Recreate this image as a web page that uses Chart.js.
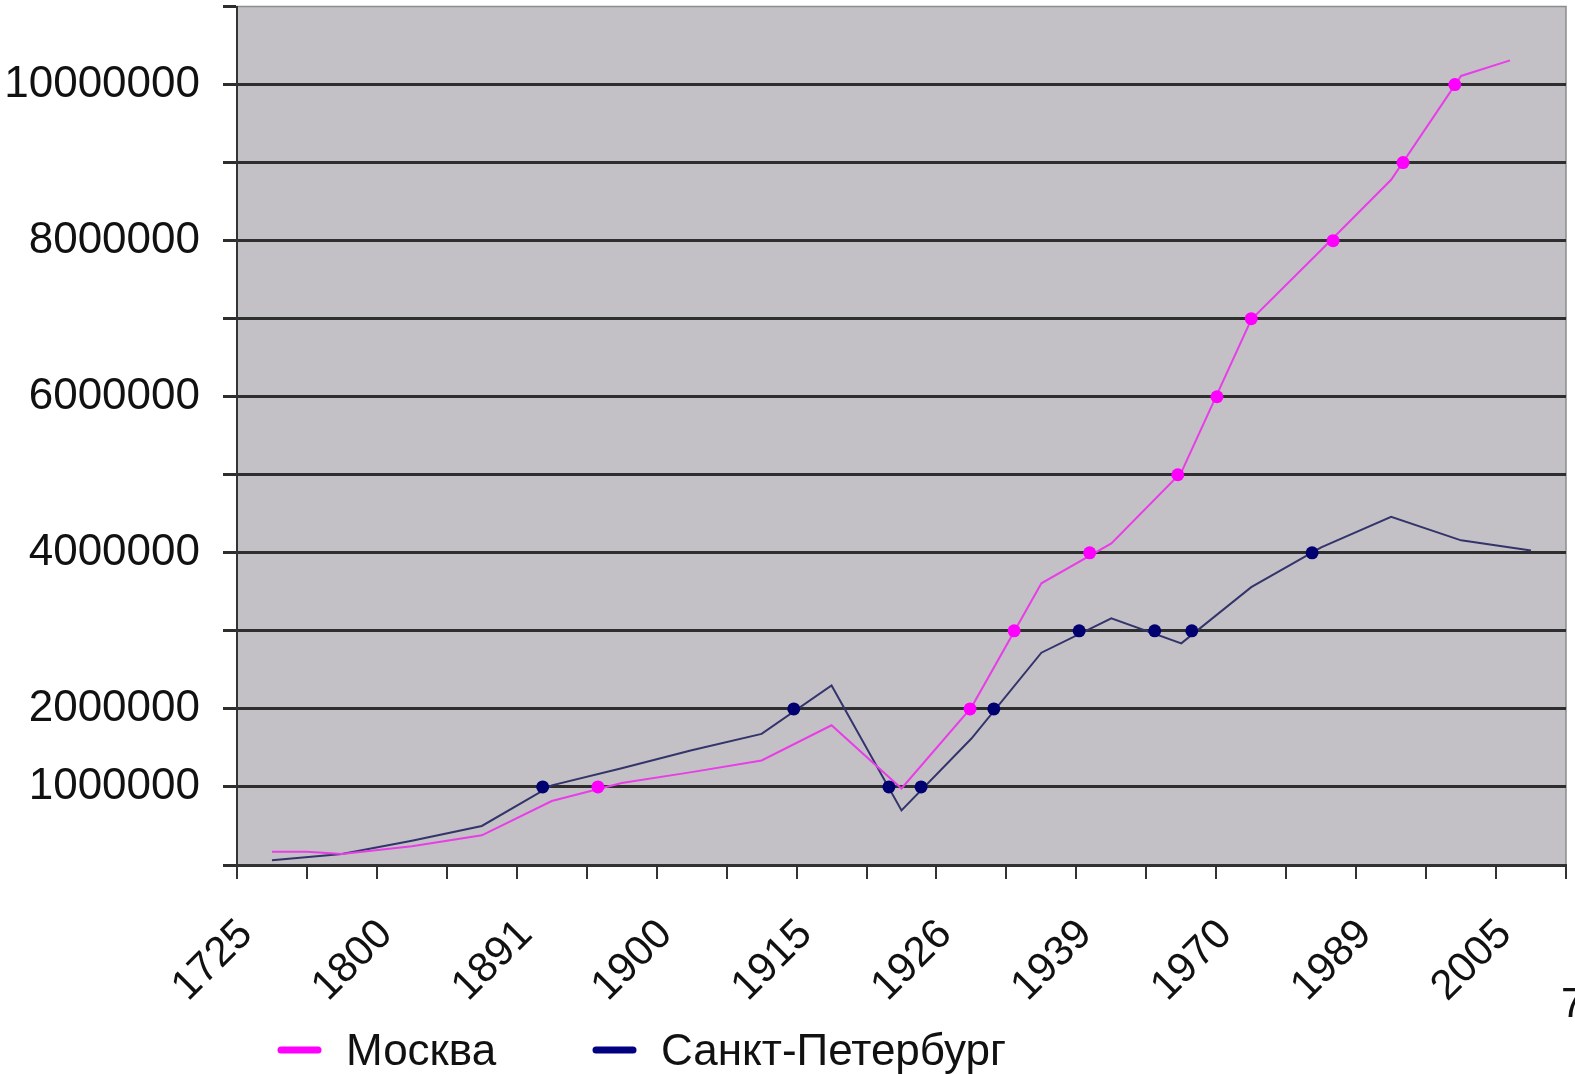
<!DOCTYPE html>
<html>
<head>
<meta charset="utf-8">
<title>Москва и Санкт-Петербург</title>
<script src="https://cdn.jsdelivr.net/npm/chart.js@4.4.1/dist/chart.umd.min.js"></script>
<style>
  html, body { margin: 0; padding: 0; background: #fff; }
  canvas { display: block; }
</style>
</head>
<body>
<canvas id="popChart" width="1575" height="1074"></canvas>
<script>
// x categories (only every other one gets a label)
const years = ['1725', '1750', '1800', '1863', '1891', '1897', '1900', '1907', '1915', '1920',
               '1926', '1933', '1939', '1959', '1970', '1979', '1989', '2002', '2005'];

// Moscow line: position on the category axis, population
const moscowPos = [0, 0.5, 1, 2, 3, 4, 5, 6, 7, 8, 9, 10, 11, 12, 13, 14, 15, 16, 17, 17.7];
const moscowPop = [170000, 170000, 140000, 240000, 380000, 820000, 1050000, 1190000, 1340000, 1790000,
                   980000, 2020000, 3610000, 4120000, 5030000, 6990000, 7880000, 8780000, 10110000, 10310000];

// St Petersburg line
const spbPos = [0, 1, 2, 3, 4, 5, 6, 7, 8, 9, 10, 11, 12, 13, 14, 15, 16, 17, 18];
const spbPop = [60000, 140000, 310000, 500000, 1020000, 1240000, 1470000, 1680000, 2300000, 700000,
                1620000, 2720000, 3160000, 2840000, 3560000, 4070000, 4460000, 4160000, 4030000];

// dots where the lines cross whole millions
const moscowDotPos = [4.66, 9.98, 10.61, 11.69, 12.95, 13.51, 14.0, 15.17, 16.17, 16.91];
const moscowDotPop = [1000000, 2000000, 3000000, 4000000, 5000000, 6000000, 7000000, 8000000, 9000000, 10000000];
const spbDotPos = [3.87, 7.46, 8.82, 9.28, 10.32, 11.54, 12.62, 13.15, 14.87];
const spbDotPop = [1000000, 2000000, 1000000, 1000000, 2000000, 3000000, 3000000, 3000000, 4000000];

// y values that get a printed label
const yLabelled = [1000000, 2000000, 4000000, 6000000, 8000000, 10000000];

const FONT = '"Liberation Sans", Arial, sans-serif';
const pts = (xs, ys) => xs.map((x, i) => ({ x: x, y: ys[i] }));

// grey plot area like the old Excel charts
const plotBackground = {
  id: 'plotBackground',
  beforeDraw(chart) {
    const { ctx, chartArea: a } = chart;
    ctx.save();
    ctx.fillStyle = '#c3c1c5';
    ctx.fillRect(a.left, a.top, a.width, a.height);
    ctx.strokeStyle = '#8c8c8c';
    ctx.lineWidth = 1.5;
    ctx.strokeRect(a.left, a.top, a.width, a.height);
    ctx.restore();
  }
};

// legend under the axis labels + slide number
const bottomLegend = {
  id: 'bottomLegend',
  afterDraw(chart) {
    const ctx = chart.ctx;
    const left = chart.chartArea.left;
    const y = 1050;
    const items = [
      { ds: chart.data.datasets[2], x: left + 40 },
      { ds: chart.data.datasets[3], x: left + 355 }
    ];
    ctx.save();
    ctx.font = '44px ' + FONT;
    ctx.textBaseline = 'alphabetic';
    ctx.lineCap = 'round';
    ctx.lineWidth = 7;
    items.forEach(it => {
      ctx.strokeStyle = it.ds.legendColor;
      ctx.beginPath();
      ctx.moveTo(it.x + 4, y);
      ctx.lineTo(it.x + 41, y);
      ctx.stroke();
      ctx.fillStyle = '#111';
      ctx.fillText(it.ds.label, it.x + 69, y + 15);
    });
    ctx.font = '42px ' + FONT;
    ctx.fillText('7', 1561, 1017);
    ctx.restore();
  }
};

new Chart(document.getElementById('popChart'), {
  type: 'line',
  data: {
    labels: years,
    datasets: [
      {
        label: 'Москва (точки)',
        data: pts(moscowDotPos, moscowDotPop),
        xAxisID: 'xPos',
        showLine: false,
        pointRadius: 6.5,
        pointBorderWidth: 0,
        pointBackgroundColor: '#ff00ff'
      },
      {
        label: 'Санкт-Петербург (точки)',
        data: pts(spbDotPos, spbDotPop),
        xAxisID: 'xPos',
        showLine: false,
        pointRadius: 6.5,
        pointBorderWidth: 0,
        pointBackgroundColor: '#000070'
      },
      {
        label: 'Москва',
        legendColor: '#ff00ff',
        data: pts(moscowPos, moscowPop),
        xAxisID: 'xPos',
        borderColor: '#e83ee8',
        borderWidth: 2,
        pointRadius: 0,
        tension: 0
      },
      {
        label: 'Санкт-Петербург',
        legendColor: '#000080',
        data: pts(spbPos, spbPop),
        xAxisID: 'xPos',
        borderColor: '#34346c',
        borderWidth: 2,
        pointRadius: 0,
        tension: 0
      }
    ]
  },
  options: {
    responsive: false,
    animation: false,
    devicePixelRatio: 1,
    layout: { padding: { top: 5, right: 9, left: 0, bottom: 0 } },
    plugins: {
      legend: { display: false },
      tooltip: { enabled: false }
    },
    scales: {
      x: {
        type: 'category',
        offset: true,
        grid: { offset: true, drawOnChartArea: false, tickLength: 14, color: '#333', lineWidth: 2 },
        border: { display: true, color: '#333', width: 2 },
        ticks: {
          autoSkip: false,
          minRotation: 45,
          maxRotation: 45,
          padding: 31,
          labelOffset: -26,
          color: '#111',
          font: { family: FONT, size: 42 },
          callback: function (val, i) { return i % 2 === 0 ? this.getLabelForValue(val) : ''; }
        },
        afterFit: s => { s.height = 209; s.paddingLeft = 0; s.paddingRight = 0; }
      },
      xPos: { type: 'linear', display: false, min: -0.5, max: 18.5 },
      y: {
        min: 0,
        max: 11000000,
        grid: {
          color: c => (c.tick && c.tick.value === 11000000) ? 'rgba(0,0,0,0)' : '#2e2e2e',
          tickColor: '#2e2e2e',
          lineWidth: 3,
          tickLength: 14
        },
        border: { display: true, color: '#333', width: 2 },
        ticks: {
          stepSize: 1000000,
          padding: 23,
          color: '#111',
          font: { family: FONT, size: 44 },
          callback: v => yLabelled.includes(v) ? String(v) : ''
        },
        afterFit: s => { s.width = 237; s.paddingTop = 0; s.paddingBottom = 0; }
      }
    }
  },
  plugins: [plotBackground, bottomLegend]
});
</script>
</body>
</html>
